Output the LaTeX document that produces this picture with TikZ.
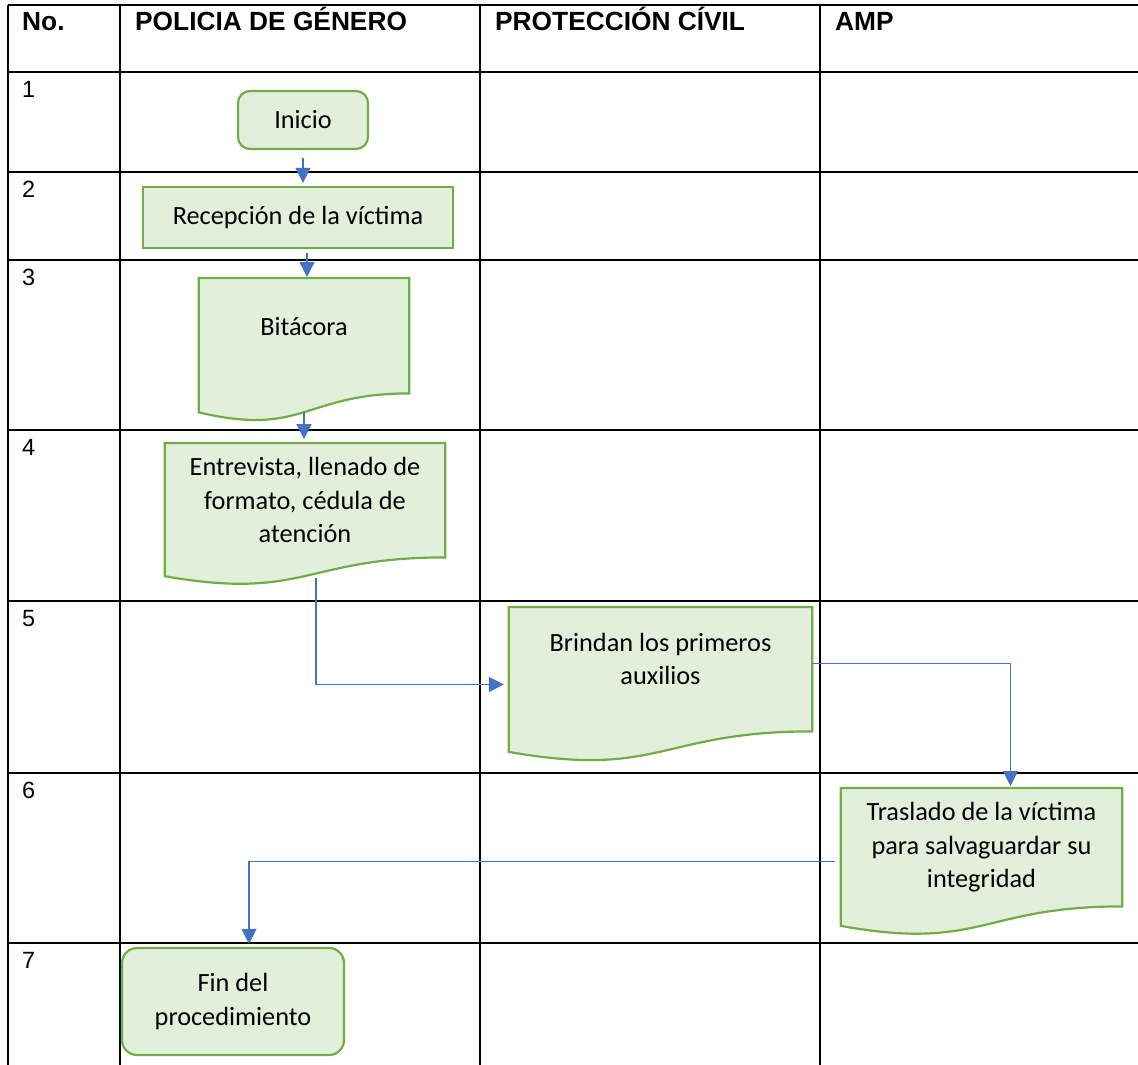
\documentclass[tikz,border=0pt]{standalone}
\usepackage{fontspec}
\setmainfont{Carlito}
\newfontfamily\arialfont{Liberation Sans}
\usetikzlibrary{arrows.meta,backgrounds}
\definecolor{flowgreen}{HTML}{70AD47}
\definecolor{flowfill}{HTML}{E2EFDA}
\definecolor{arrowblue}{HTML}{4472C4}

% document shape: outline drawn behind the node #1, #2 = height of text part
\newcommand\docpath[2]{%
  \begin{pgfonlayer}{background}
    \filldraw[docline] (#1.north west) -- (#1.north east) -- (#1.south east)
      .. controls (#1.south) and ([yshift=-0.381*#2]#1.south) .. ([yshift=-0.165*#2]#1.south west) -- cycle;
  \end{pgfonlayer}
  \coordinate (#1-b) at ([yshift=-0.163*#2]#1.south);
  \coordinate (#1-w) at ([yshift=-0.123*#2]#1.west);
}

\begin{document}
\begin{tikzpicture}[x=1pt,y=-1pt,
  hline/.style={line width=1.6pt},
  vline/.style={line width=1.1pt},
  head/.style={font=\arialfont\bfseries\fontsize{26.3}{30}\selectfont, inner sep=0pt, anchor=base west},
  num/.style={font=\arialfont\fontsize{23.5}{26}\selectfont, inner sep=0pt, anchor=base west},
  flow/.style={align=center, inner sep=0pt, font=\fontsize{26.3}{33.3}\selectfont},
  term/.style={flow, draw=flowgreen, fill=flowfill, line width=2.2pt, rounded corners=12pt},
  proc/.style={flow, draw=flowgreen, fill=flowfill, line width=2.2pt},
  doc/.style={flow, anchor=north},
  docline/.style={draw=flowgreen, fill=flowfill, line width=2.2pt},
  arr/.style={draw=arrowblue, line width=1.3pt, -{Triangle[length=15pt,width=15pt]}}]
  \useasboundingbox (0,0) rectangle (1138,1065);

  \begin{pgfonlayer}{background}
    \draw[hline] (8,5) -- (1138,5);
    \foreach \x in {8,120,480,820}
      \draw[vline] (\x,5) -- (\x,1065);
  \end{pgfonlayer}
  \begin{scope}[on background layer]
    \foreach \y in {72,172,260,430,601,773,943}
      \draw[hline] (8,\y) -- (1138,\y);
  \end{scope}

  \node[head] (h0) at (22,31) {No.};
  \node[head] (h1) at (135,31) {POLICIA DE GÉNERO};
  \node[head] (h2) at (495,31) {PROTECCIÓN CÍVIL};
  \node[head] (h3) at (835,31) {AMP};
  \foreach \y/\n in {72/1,172/2,260/3,430/4,601/5,773/6,943/7}
    \node[num] (n\n) at (22,\y+25) {\n};

  \node[term, minimum width=130pt, minimum height=58pt] (ini) at (303,120) {Inicio};
  \node[proc, minimum width=310pt, minimum height=61pt] (rec) at (298,217.5) {Recepción de la víctima};
  \node[doc, minimum width=210pt, minimum height=115pt, text depth=19pt] (bit) at (304,278) {Bitácora};
  \docpath{bit}{115}
  \node[doc, minimum width=280pt, minimum height=114pt] (ent) at (305,443) {Entrevista, llenado de\\formato, cédula de\\atención};
  \docpath{ent}{114}
  \node[doc, minimum width=303pt, minimum height=124pt, text depth=20pt] (bri) at (660.5,607) {Brindan los primeros\\auxilios};
  \docpath{bri}{124}
  \node[doc, minimum width=281pt, minimum height=118pt] (tra) at (981.5,788) {Traslado de la víctima\\para salvaguardar su\\integridad};
  \docpath{tra}{118}
  \node[term, minimum width=222pt, minimum height=107pt, rounded corners=15pt] (fin) at (233,1001.5) {Fin del\\procedimiento};

  \draw[arr, shorten <=8pt, shorten >=3pt] (ini.south) -- (ini.south |- rec.north);
  \draw[arr, shorten <=4pt, shorten >=1pt] ([xshift=3pt]rec.south -| bit.north) -- ([xshift=3pt]bit.north);
  \draw[arr, shorten >=4pt] (bit-b) -- (bit-b |- ent.north);
  \draw[arr, shorten <=2pt, shorten >=5pt] ([xshift=11pt]ent-b) |- (bri-w);
  \draw[arr, shorten >=2pt] ([yshift=6pt]bri.east) -| ([xshift=29pt]tra.north);
  \draw[arr, shorten <=6pt, shorten >=3pt] (tra-w) -| ([xshift=16pt]fin.north);
\end{tikzpicture}
\end{document}
